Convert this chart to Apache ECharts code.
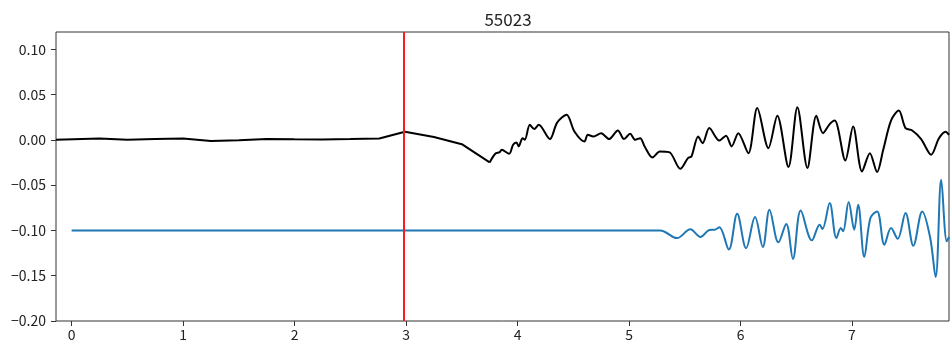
<!DOCTYPE html>
<html>
<head>
<meta charset="utf-8">
<script src="https://cdn.jsdelivr.net/npm/echarts@6/dist/echarts.min.js"></script>
<style>
  html, body { margin: 0; padding: 0; background: #fff; }
  #chart { width: 950px; height: 345px; }
</style>
</head>
<body>
<div id="chart"></div>
<script>
// Station record 55023: raw trace (black), filtered trace offset by -0.1 (blue), event marker (red)
const title = '55023';
const xTicks = [0, 1, 2, 3, 4, 5, 6, 7];
const yTicks = [-0.20, -0.15, -0.10, -0.05, 0.00, 0.05, 0.10];
const markerX = 2.98;

// raw trace, sparse linear part
const rawHeadX = [-0.14, 0.25, 0.5, 0.75, 1.0, 1.25, 1.5, 1.75, 2.0, 2.25, 2.5, 2.76, 2.99, 3.25, 3.5, 3.75];
const rawHeadY = [0.0, 0.0015, 0.0, 0.0008, 0.0015, -0.0012, -0.0005, 0.001, 0.0005, 0.0003, 0.0008, 0.0014, 0.0088, 0.003, -0.0048, -0.025];

// raw trace, dense part
const rawTailX = [3.75, 3.80, 3.84, 3.857, 3.925, 3.96, 3.99, 4.01, 4.045, 4.065, 4.11, 4.15, 4.19, 4.29, 4.355, 4.44, 4.51, 4.60, 4.63, 4.68, 4.75, 4.82, 4.90, 4.955, 5.01, 5.055, 5.10,
  5.14, 5.21, 5.276, 5.36, 5.46, 5.53, 5.56, 5.62, 5.66, 5.72, 5.81, 5.87, 5.92, 5.98, 6.07, 6.15, 6.25, 6.33, 6.43, 6.51, 6.60, 6.68, 6.74, 6.80, 6.845, 6.94, 7.01, 7.09, 7.16, 7.225, 7.28, 7.35, 7.42, 7.48, 7.54, 7.62, 7.71, 7.78, 7.84, 7.87];
const rawTailY = [-0.025, -0.0154, -0.0136, -0.011, -0.0154, -0.0055, -0.003, -0.0073, 0.0018, 0.0, 0.0165, 0.0118, 0.0165, 0.0008, 0.019, 0.0276, 0.0092, -0.0018, 0.0055, 0.0037, 0.0073, 0.0008, 0.0103, 0.0008, 0.0066, 0.0, 0.0018,
  -0.0073, -0.0195, -0.013, -0.0136, -0.032, -0.020, -0.0184, 0.0037, -0.0037, 0.0129, -0.0008, 0.0044, -0.0073, 0.0073, -0.0147, 0.035, -0.0092, 0.0265, -0.030, 0.036, -0.031, 0.0265, 0.0073, 0.0173, 0.0213, -0.0228, 0.0147, -0.035, -0.0147, -0.0356, -0.011, 0.0213, 0.0323, 0.0129, 0.0103, 0.0008, -0.0165, 0.0018, 0.009, 0.0055];

// filtered trace
const filtX = [0.0, 5.0, 5.28, 5.43, 5.55, 5.64, 5.72, 5.77, 5.81, 5.895, 5.97, 6.05, 6.13, 6.20, 6.26, 6.34, 6.41, 6.47, 6.54, 6.64, 6.71, 6.735, 6.80, 6.86, 6.90, 6.92, 6.97, 7.02, 7.055, 7.11, 7.165, 7.225, 7.29, 7.35, 7.41, 7.48, 7.55, 7.63, 7.70, 7.75, 7.80, 7.85, 7.87];
const filtY = [-0.10, -0.10, -0.10, -0.1085, -0.0988, -0.1073, -0.0996, -0.0992, -0.0966, -0.121, -0.0816, -0.1196, -0.0852, -0.1183, -0.0772, -0.1132, -0.0928, -0.1315, -0.078, -0.111, -0.0937, -0.0985, -0.0698, -0.1084, -0.0974, -0.101, -0.0687, -0.0992, -0.0717, -0.1293, -0.0864, -0.079, -0.1158, -0.0974, -0.1092, -0.0808, -0.1169, -0.079, -0.1073, -0.1514, -0.0441, -0.1121, -0.1073];

const zip = (xs, ys) => xs.map((x, i) => [x, ys[i]]);
const fmtY = v => v.toFixed(2).replace('-', '\u2212');
const font = '"Noto Sans CJK JP", "DejaVu Sans", sans-serif';

const chart = echarts.init(document.getElementById('chart'), null, { renderer: 'canvas' });
chart.setOption({
  animation: false,
  backgroundColor: '#fff',
  title: {
    text: title, left: 503, top: 6, textAlign: 'center',
    textStyle: { fontFamily: font, fontSize: 17, fontWeight: 'normal', color: '#222' }
  },
  grid: { left: 56, right: 1, top: 32, bottom: 24, show: true, borderColor: '#333', borderWidth: 1, backgroundColor: 'transparent' },
  xAxis: {
    type: 'value', min: -0.14, max: 7.87,
    axisLine: { show: false, onZero: false },
    splitLine: { show: false },
    axisTick: { show: true, inside: false, length: 5, customValues: xTicks, lineStyle: { color: '#333' } },
    axisLabel: { customValues: xTicks, margin: 7, fontFamily: font, fontSize: 14, color: '#222', formatter: v => String(v) }
  },
  yAxis: {
    type: 'value', min: -0.2, max: 0.119,
    axisLine: { show: false, onZero: false },
    splitLine: { show: false },
    axisTick: { show: true, inside: false, length: 5, customValues: yTicks, lineStyle: { color: '#333' } },
    axisLabel: { customValues: yTicks, margin: 10, fontFamily: font, fontSize: 14, color: '#222', formatter: fmtY }
  },
  series: [
    {
      type: 'line', data: zip(rawHeadX, rawHeadY), showSymbol: false, symbol: 'none',
      lineStyle: { color: '#000', width: 2 }, z: 3,
      markLine: {
        silent: true, symbol: 'none', label: { show: false },
        lineStyle: { color: '#ff1a1a', width: 2, type: 'solid' },
        data: [{ xAxis: markerX }]
      }
    },
    {
      type: 'line', data: zip(rawTailX, rawTailY), showSymbol: false, symbol: 'none', smooth: 0.3,
      lineStyle: { color: '#000', width: 2 }, z: 3
    },
    {
      type: 'line', data: zip(filtX, filtY), showSymbol: false, symbol: 'none', smooth: 0.35,
      lineStyle: { color: '#1f77b4', width: 2 }, z: 2
    }
  ]
});
</script>
</body>
</html>
